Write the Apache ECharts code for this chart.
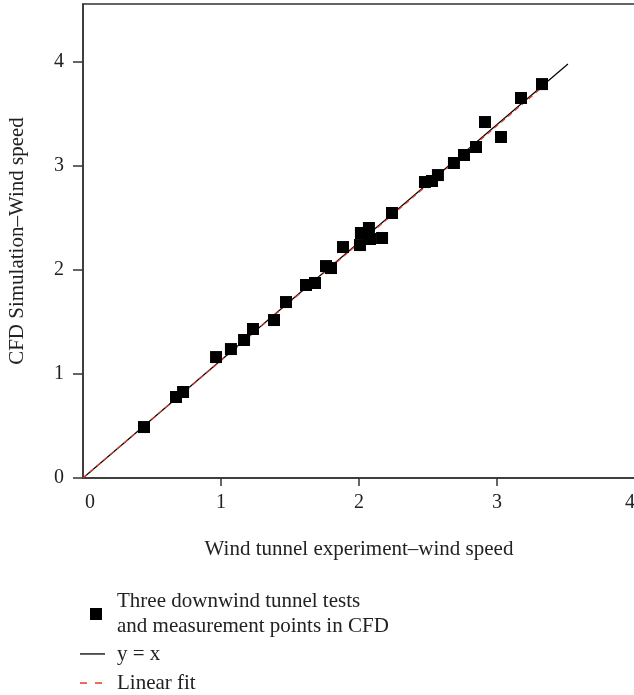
<!DOCTYPE html>
<html>
<head>
<meta charset="utf-8">
<script src="https://cdn.jsdelivr.net/npm/echarts@6/dist/echarts.min.js"></script>
<style>html,body{margin:0;padding:0;background:#fff;}#c{width:634px;height:695px;}</style>
</head>
<body>
<div id="c"></div>
<script>
// Data
var xTicks = [0, 1, 2, 3, 4];
var yTicks = [0, 1, 2, 3, 4];
var measuredX = [0.442, 0.674, 0.725, 0.964, 1.072, 1.167, 1.232, 1.384, 1.471, 1.616,
                 1.681, 1.761, 1.797, 1.884, 2.007, 2.014, 2.072, 2.080, 2.167, 2.239,
                 2.478, 2.529, 2.572, 2.688, 2.761, 2.848, 2.913, 3.029, 3.174, 3.326];
var measuredY = [0.490, 0.779, 0.827, 1.163, 1.240, 1.327, 1.433, 1.519, 1.692, 1.856,
                 1.875, 2.038, 2.019, 2.221, 2.240, 2.356, 2.404, 2.298, 2.308, 2.548,
                 2.846, 2.856, 2.913, 3.029, 3.106, 3.183, 3.423, 3.279, 3.654, 3.788];
var identityX = [0, 3.514];
var identityY = [0, 3.981];
var fitX = [0, 3.33];
var fitY = [0, 3.76];

var nameScatter = 'Three downwind tunnel tests\nand measurement points in CFD';
var nameIdentity = 'y = x';
var nameFit = 'Linear fit';

function zip(a, b) { return a.map(function (v, i) { return [v, b[i]]; }); }

var FONT = '"Liberation Serif", "DejaVu Serif", serif';
var AX = '#333';
var TXT = '#222';
var chart = echarts.init(document.getElementById('c'), null, {renderer: 'canvas'});
chart.setOption({
  backgroundColor: '#fff',
  animation: false,
  grid: {left: 83, top: 4, width: 552, height: 474, outerBoundsMode: 'none', containLabel: false,
         show: true, borderColor: AX, borderWidth: 1.5, backgroundColor: 'transparent'},
  xAxis: {
    type: 'value', min: 0, max: 4, interval: 1,
    name: 'Wind tunnel experiment\u2013wind speed', nameLocation: 'middle', nameGap: 61,
    nameTextStyle: {fontFamily: FONT, fontSize: 21, color: TXT},
    axisLine: {show: true, onZero: false, lineStyle: {color: AX, width: 1.5}},
    axisTick: {show: true, length: 8, lineStyle: {color: AX, width: 1.5}, customValues: xTicks.slice(1)},
    axisLabel: {
      fontFamily: FONT, fontSize: 20, color: TXT, margin: 15, customValues: xTicks,
      formatter: function (v) {
        if (v === 0) return '{first|' + v + '}';
        if (v === 4) return '{last|' + v + '}';
        return String(v);
      },
      rich: {
        first: {fontFamily: FONT, fontSize: 20, color: TXT, padding: [0, 0, 0, 14]},
        last: {fontFamily: FONT, fontSize: 20, color: TXT, padding: [0, 10, 0, 0]}
      }
    },
    splitLine: {show: false}
  },
  yAxis: {
    type: 'value', min: 0, max: 4.558, interval: 1,
    name: 'CFD Simulation\u2013Wind speed', nameLocation: 'middle', nameGap: 55,
    nameTextStyle: {fontFamily: FONT, fontSize: 21, color: TXT},
    axisLine: {show: true, onZero: false, lineStyle: {color: AX, width: 1.5}},
    axisTick: {show: true, length: 10, lineStyle: {color: AX, width: 1.5}, customValues: yTicks},
    axisLabel: {fontFamily: FONT, fontSize: 20, color: TXT, margin: 19, customValues: yTicks},
    splitLine: {show: false}
  },
  legend: {
    orient: 'vertical', left: 80, top: 589, padding: 0, itemGap: 1, itemWidth: 25, itemHeight: 14,
    textStyle: {fontFamily: FONT, fontSize: 21, color: TXT, lineHeight: 28, padding: [0, 0, 0, 7]},
    data: [
      {name: nameScatter, icon: 'path://M0,0M25,14M10,1h12v12h-12z',
       textStyle: {lineHeight: 25}},
      {name: nameIdentity, icon: 'path://M0,0M25,14M0,6.3h25v1.3h-25z'},
      {name: nameFit, icon: 'path://M0,0M25,14M0,6.2h7v1.6h-7zM15,6.2h7v1.6h-7z'}
    ]
  },
  series: [
    {
      name: nameIdentity, type: 'line', data: zip(identityX, identityY), symbol: 'none',
      lineStyle: {color: '#000', width: 1.2}, itemStyle: {color: '#000'}, z: 2
    },
    {
      name: nameFit, type: 'line', data: zip(fitX, fitY), symbol: 'none',
      lineStyle: {color: '#e23b2a', width: 1.3, type: [5, 4]}, itemStyle: {color: '#e23b2a'}, z: 3
    },
    {
      name: nameScatter, type: 'scatter', data: zip(measuredX, measuredY),
      symbol: 'rect', symbolSize: 12, itemStyle: {color: '#000', opacity: 1}, z: 4
    }
  ]
});
</script>
</body>
</html>
